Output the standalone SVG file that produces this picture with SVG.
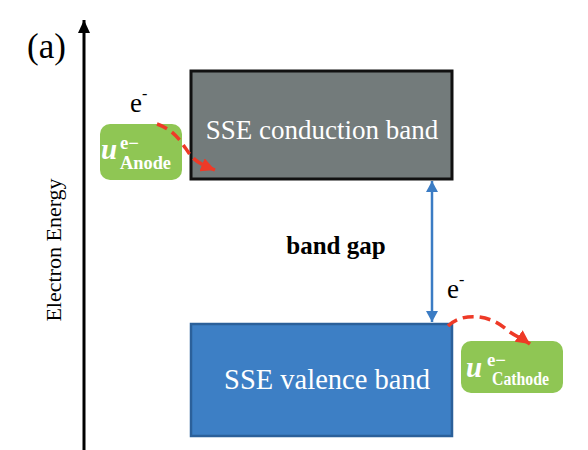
<svg xmlns="http://www.w3.org/2000/svg" width="588" height="450" viewBox="0 0 588 450">
<defs>
<style>
.band{fill:#ffffff;font-family:"Liberation Serif","Times New Roman",serif;text-anchor:middle;}
.lbl{fill:#000000;font-family:"Liberation Serif","Times New Roman",serif;}
.u{fill:#ffffff;font-family:"Liberation Serif","Times New Roman",serif;font-weight:bold;font-style:italic;font-size:29px;}
.sup{fill:#ffffff;font-family:"Liberation Serif","Times New Roman",serif;font-weight:bold;font-size:18px;}
.sub{fill:#ffffff;font-family:"Liberation Serif","Times New Roman",serif;font-weight:bold;font-size:18px;}
.green{fill:#8fc654;}
.red{fill:none;stroke:#ee3a27;stroke-width:3.5;stroke-dasharray:11 6;}
</style>
<marker id="redHead" markerUnits="userSpaceOnUse" markerWidth="16" markerHeight="14" refX="14" refY="7" orient="auto">
<path d="M0,0 L14,7 L0,14 Z" fill="#ee3a27"/>
</marker>
<marker id="blueHead" markerUnits="userSpaceOnUse" markerWidth="12" markerHeight="12" refX="11" refY="6" orient="auto-start-reverse">
<path d="M0,0 L11,6 L0,12 Z" fill="#3b7cc4"/>
</marker>
<marker id="blackHead" markerUnits="userSpaceOnUse" markerWidth="14" markerHeight="14" refX="13" refY="6" orient="auto">
<path d="M0,0 L13,6 L0,12 Z" fill="#000000"/>
</marker>
</defs>
<rect width="588" height="450" fill="#ffffff"/>

<g id="axis">
<line x1="84" y1="450" x2="84" y2="20" stroke="#000000" stroke-width="3" marker-end="url(#blackHead)"/>
<text class="lbl" x="27" y="58" font-size="35">(a)</text>
<text class="lbl" font-size="22" text-anchor="middle" transform="translate(61,250) rotate(-90)">Electron Energy</text>
</g>

<g id="conduction-band">
<rect x="191" y="71" width="261" height="108" fill="#737b7b" stroke="#111111" stroke-width="3"/>
<text class="band" x="322" y="139" font-size="27">SSE conduction band</text>
</g>

<g id="valence-band">
<rect x="191" y="324" width="261" height="112" fill="#3d7fc5" stroke="#2b609a" stroke-width="2.5"/>
<text class="band" x="327" y="389" font-size="28.5">SSE valence band</text>
</g>

<g id="band-gap-label">
<text class="lbl" x="336" y="254" font-size="25" font-weight="bold" text-anchor="middle">band gap</text>
</g>

<g id="anode">
<rect class="green" x="100" y="124" width="82" height="56" rx="10"/>
<text class="u" x="101" y="159">u</text>
<text class="sup" x="120" y="149" textLength="19" lengthAdjust="spacingAndGlyphs">e−</text>
<text class="sub" x="120" y="169" textLength="51" lengthAdjust="spacingAndGlyphs">Anode</text>
</g>

<g id="cathode">
<rect class="green" x="461" y="341" width="102" height="52" rx="10"/>
<text class="u" x="466" y="377">u</text>
<text class="sup" x="487" y="366" textLength="19" lengthAdjust="spacingAndGlyphs">e−</text>
<text class="sub" x="492" y="385" textLength="57" lengthAdjust="spacingAndGlyphs">Cathode</text>
</g>

<g id="electron-top">
<text class="lbl" x="130" y="112" font-size="27">e<tspan dy="-13" font-size="16">-</tspan></text>
</g>

<g id="electron-bottom">
<text class="lbl" x="447" y="298" font-size="27">e<tspan dy="-13" font-size="16">-</tspan></text>
</g>

<g id="connectors">
<line x1="432" y1="181" x2="432" y2="322" stroke="#3b7cc4" stroke-width="2.5" marker-start="url(#blueHead)" marker-end="url(#blueHead)"/>
<path class="red" d="M157,124 C178,131 184,148 192,157 C198,163 205,166 215,170" marker-end="url(#redHead)"/>
<path class="red" d="M448,326 C462,312 490,314 507,330 C515,336 523,339 530,344" marker-end="url(#redHead)"/>
</g>
</svg>
